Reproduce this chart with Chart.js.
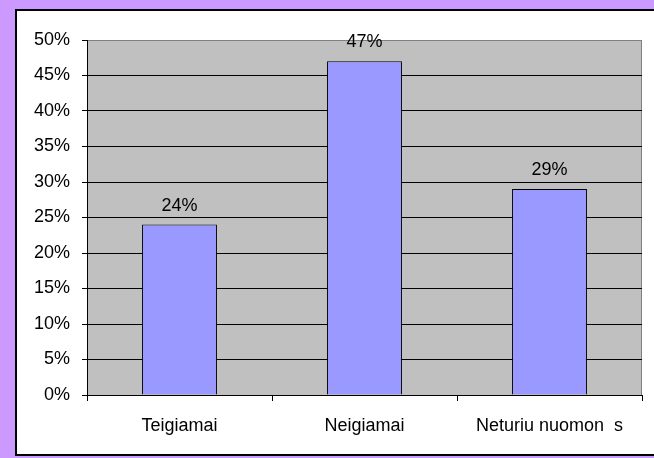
<!DOCTYPE html>
<html>
<head>
<meta charset="utf-8">
<script src="https://cdn.jsdelivr.net/npm/chart.js@4.4.0/dist/chart.umd.min.js"></script>
<style>
  html, body { margin: 0; padding: 0; }
  body { width: 654px; height: 458px; background: #CC99FF; position: relative; overflow: hidden; }
  #frame { position: absolute; left: 15px; top: 9px; width: 660px; height: 447px; box-sizing: border-box;
           border: 2px solid #000; background: #fff; }
  #wrap { position: absolute; left: 0; top: 0; width: 654px; height: 458px; }
</style>
</head>
<body>
<div id="frame"></div>
<div id="wrap"><canvas id="myChart"></canvas></div>
<script>
const categories = ['Teigiamai', 'Neigiamai', 'Neturiu nuomon  s'];
const shares = [24, 47, 29];
const yTicks = [0, 5, 10, 15, 20, 25, 30, 35, 40, 45, 50];

const font = { family: "'Liberation Sans', Arial, sans-serif", size: 18 };

// gray plot background with a gray frame on top and right
const plotBg = {
  id: 'plotBg',
  beforeDraw(chart) {
    const { ctx, chartArea: a } = chart;
    ctx.save();
    ctx.fillStyle = '#C0C0C0';
    ctx.fillRect(a.left, a.top, a.right - a.left, a.bottom - a.top);
    ctx.strokeStyle = '#808080';
    ctx.lineWidth = 1;
    ctx.beginPath();
    ctx.moveTo(a.left, a.top + 0.5);
    ctx.lineTo(a.right - 0.5, a.top + 0.5);
    ctx.lineTo(a.right - 0.5, a.bottom);
    ctx.stroke();
    ctx.restore();
  }
};

const valueLabels = {
  id: 'valueLabels',
  afterDatasetsDraw(chart) {
    const { ctx } = chart;
    const meta = chart.getDatasetMeta(0);
    ctx.save();
    ctx.font = font.size + 'px ' + font.family;
    ctx.fillStyle = '#000';
    ctx.textAlign = 'center';
    ctx.textBaseline = 'bottom';
    meta.data.forEach((bar, i) => {
      ctx.fillText(shares[i] + '%', bar.x, bar.y - 10);
    });
    ctx.restore();
  }
};

const data = {
  labels: categories,
  datasets: [{
    data: shares,
    backgroundColor: '#9999FF',
    borderColor: '#000',
    borderWidth: 1,
    barPercentage: 0.405,
    categoryPercentage: 1
  }]
};

const config = {
  type: 'bar',
  data,
  plugins: [plotBg, valueLabels],
  options: {
    responsive: true,
    maintainAspectRatio: false,
    animation: false,
    layout: { padding: { left: 0, top: 40, right: 12, bottom: 0 } },
    plugins: { legend: { display: false }, tooltip: { enabled: false } },
    scales: {
      x: {
        afterFit(scale) { scale.height = 63; },
        grid: {
          offset: true,
          drawOnChartArea: false,
          drawTicks: true,
          tickLength: 6,
          tickColor: '#000'
        },
        border: { color: '#000', width: 1 },
        ticks: { color: '#000', font, padding: 14, maxRotation: 0 }
      },
      y: {
        min: 0,
        max: 50,
        afterFit(scale) { scale.width = 87; },
        afterBuildTicks(scale) { scale.ticks = yTicks.map(v => ({ value: v })); },
        grid: {
          color: ctx => (ctx.tick && ctx.tick.value === 50 ? '#808080' : '#000'),
          tickColor: '#000',
          tickLength: 5
        },
        border: { color: '#000', width: 1 },
        ticks: { color: '#000', font, padding: 12, callback: v => v + '%' }
      }
    }
  }
};

const myChart = new Chart(document.getElementById('myChart'), config);
</script>
</body>
</html>
